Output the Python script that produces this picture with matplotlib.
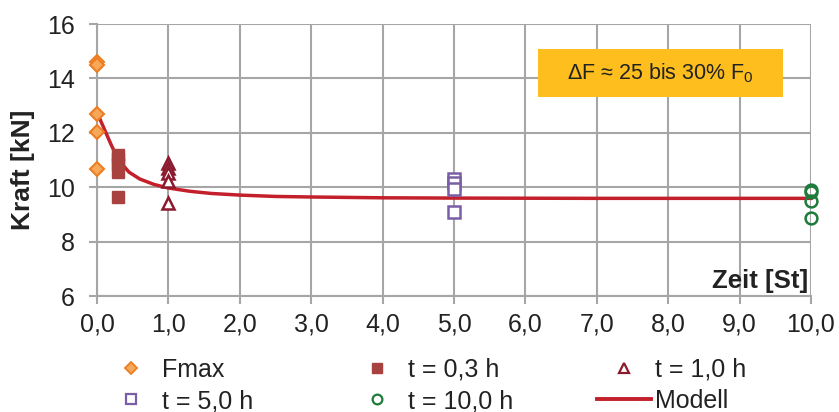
import matplotlib
matplotlib.use("Agg")
import matplotlib.pyplot as plt
from matplotlib.lines import Line2D
from matplotlib.patches import Rectangle

plt.rcParams['font.family'] = ['Liberation Sans', 'DejaVu Sans']
plt.rcParams['mathtext.fontset'] = 'custom'
plt.rcParams['mathtext.rm'] = 'Liberation Sans'

# Data
fmax_t = [0, 0, 0, 0, 0]
fmax_v = [14.6, 14.5, 12.68, 12.03, 10.66]
t03_t = [0.3, 0.3, 0.3, 0.3, 0.3]
t03_v = [11.2, 11.05, 10.85, 10.56, 9.65]
t10_t = [1.0, 1.0, 1.0, 1.0, 1.0]
t10_v = [10.89, 10.7, 10.52, 10.24, 9.41]
t50_t = [5.0, 5.0, 5.0, 5.0]
t50_v = [10.31, 10.14, 9.95, 9.1]
t100_t = [10.0, 10.0, 10.0, 10.0]
t100_v = [9.9, 9.84, 9.5, 8.85]
model_t = [0, 0.05, 0.1, 0.15, 0.2, 0.3, 0.45, 0.6, 0.8, 1.0, 1.3, 1.6, 2.0, 2.5, 3.0, 4.0, 5.0, 7.0, 10.0]
model_v = [12.78, 12.45, 12.15, 11.85, 11.55, 11.0, 10.55, 10.3, 10.1, 9.97, 9.85, 9.77, 9.71, 9.66, 9.64, 9.61, 9.6, 9.59, 9.59]
xticks = [0, 1, 2, 3, 4, 5, 6, 7, 8, 9, 10]
xticklabels = ['0,0', '1,0', '2,0', '3,0', '4,0', '5,0', '6,0', '7,0', '8,0', '9,0', '10,0']
yticks = [6, 8, 10, 12, 14, 16]
series_labels = ['Fmax', 't = 0,3 h', 't = 1,0 h', 't = 5,0 h', 't = 10,0 h', 'Modell']

W, H = 839, 412
fig = plt.figure(figsize=(W / 100, H / 100), dpi=100)
ax = fig.add_axes([97 / W, 1 - 296 / H, (811 - 97) / W, (296 - 24) / H])

grid_c = '#A6A6A6'
text_c = '#222222'
ax.set_xlim(0, 10)
ax.set_ylim(6, 16)
ax.set_xticks(xticks)
ax.set_xticklabels(xticklabels)
ax.set_yticks(yticks)
ax.grid(True, color=grid_c, linewidth=1.5, zorder=0)
for s in ['top', 'right']:
    ax.spines[s].set_visible(False)
for s in ['left', 'bottom']:
    ax.spines[s].set_color(grid_c)
    ax.spines[s].set_linewidth(1.5)
ax.tick_params(axis='both', colors=grid_c, labelcolor=text_c, labelsize=18,
               length=6, width=1.5)
ax.tick_params(axis='x', pad=6)
ax.tick_params(axis='y', pad=10)

c_fmax_f, c_fmax_e = '#F6A85A', '#EE7D22'
c_t03 = '#A7423F'
c_t10 = '#8B1A2E'
c_t50 = '#7A5FA6'
c_t100 = '#1E7B3B'
c_model = '#C3202B'

ms = 8.5
ax.plot(model_t, model_v, color=c_model, linewidth=2.5, zorder=2, clip_on=False)
ax.plot(fmax_t, fmax_v, linestyle='none', marker='D', markersize=7,
        markerfacecolor=c_fmax_f, markeredgecolor=c_fmax_e, markeredgewidth=1.5, zorder=3, clip_on=False)
ax.plot(t03_t, t03_v, linestyle='none', marker='s', markersize=ms,
        markerfacecolor=c_t03, markeredgecolor=c_t03, zorder=3, clip_on=False)
ax.plot(t10_t, t10_v, linestyle='none', marker='^', markersize=ms,
        markerfacecolor='white', markeredgecolor=c_t10, markeredgewidth=1.8, zorder=3, clip_on=False)
ax.plot(t50_t, t50_v, linestyle='none', marker='s', markersize=ms,
        markerfacecolor='white', markeredgecolor=c_t50, markeredgewidth=1.8, zorder=3, clip_on=False)
ax.plot(t100_t, t100_v, linestyle='none', marker='o', markersize=ms,
        markerfacecolor='none', markeredgecolor=c_t100, markeredgewidth=1.8, zorder=3, clip_on=False)

ax.set_ylabel('Kraft [kN]', fontsize=19, fontweight='bold', color=text_c, va='center')
ax.yaxis.set_label_coords((23 - 97) / 714, (296 - 170) / 272)
ax.text(9.96, 6.3, 'Zeit [St]', fontsize=18.5, fontweight='bold', color=text_c,
        ha='right', va='baseline', zorder=4)

# annotation box
fig.patches.append(Rectangle((538 / W, 1 - 97 / H), (783 - 538) / W, (97 - 49) / H,
                             transform=fig.transFigure, facecolor='#FDBE1E',
                             edgecolor='none', zorder=4))
fig.text(660.5 / W, 1 - 73 / H, 'ΔF ≈ 25 bis 30% F$\\mathregular{_0}$', fontsize=15.5,
         color=text_c, ha='center', va='center', zorder=5)

# legend: one entry per anchor
handles = [
    Line2D([], [], linestyle='none', marker='D', markersize=6, markerfacecolor=c_fmax_f,
           markeredgecolor=c_fmax_e, markeredgewidth=1.3),
    Line2D([], [], linestyle='none', marker='s', markersize=7.5, markerfacecolor=c_t03, markeredgecolor=c_t03),
    Line2D([], [], linestyle='none', marker='^', markersize=7, markerfacecolor='white',
           markeredgecolor=c_t10, markeredgewidth=1.6),
    Line2D([], [], linestyle='none', marker='s', markersize=7, markerfacecolor='white',
           markeredgecolor=c_t50, markeredgewidth=1.6),
    Line2D([], [], linestyle='none', marker='o', markersize=7, markerfacecolor='white',
           markeredgecolor=c_t100, markeredgewidth=1.6),
    Line2D([], [], color=c_model, linewidth=2.8),
]
fs = 18
hl_px = 54
col_left = [104, 350, 597]
row_y = [370, 401]
for i, (h, lab) in enumerate(zip(handles, series_labels)):
    col = i % 3
    row = i // 3
    fig.legend([h], [lab], loc='center left',
               bbox_to_anchor=(col_left[col] / W, 1 - row_y[row] / H),
               frameon=False, fontsize=fs, handlelength=hl_px / (fs * 100 / 72),
               handletextpad=0.17, borderpad=0, borderaxespad=0, labelcolor=text_c)

fig.savefig('out.png', dpi=100)
